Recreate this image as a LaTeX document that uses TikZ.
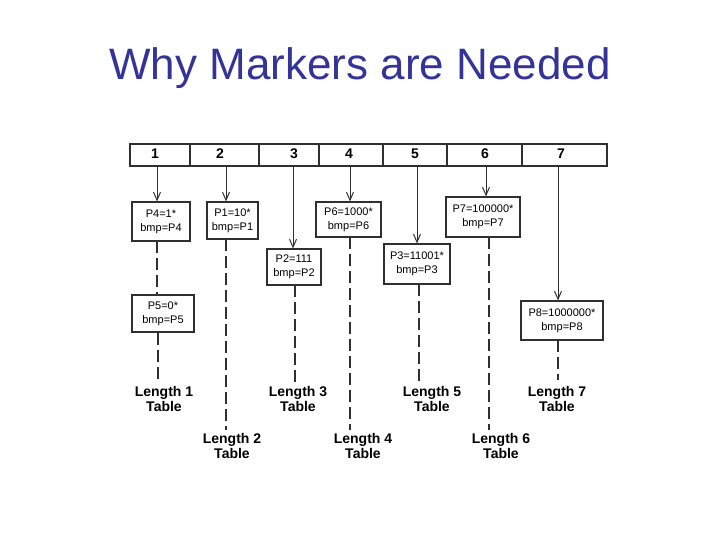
\documentclass[tikz,border=0pt]{standalone}
\usepackage{fontspec}
\setmainfont{Liberation Sans}
\usetikzlibrary{arrows.meta}
\definecolor{ttl}{HTML}{333399}
\definecolor{ln}{HTML}{303030}
\begin{document}
\begin{tikzpicture}[x=1pt,y=-1pt,
  bx/.style={draw=ln,line width=1.2pt,minimum width=#1,minimum height=37pt,inner sep=1pt,align=center,font=\fontsize{11}{14}\selectfont},
  lbl/.style={font=\bfseries\fontsize{14}{15}\selectfont,align=center},
  num/.style={font=\bfseries\fontsize{14}{15}\selectfont},
  arr/.style={draw=ln,line width=1pt,-{Straight Barb[length=8pt,width=7pt]}},
  dl/.style={draw=ln,line width=1.2pt,dash pattern=on 12pt off 5pt}]
\useasboundingbox (0,0) rectangle (720,540);
\node[text=ttl,font=\fontsize{44}{46}\selectfont] (title) at (360,68) {Why Markers are Needed};
\draw[draw=ln,line width=1.2pt] (130,144) rectangle (607,166);
\foreach \x in {190,259,319,383,447,522} \draw[draw=ln,line width=1.2pt] (\x,144)--(\x,166);
\foreach \n/\x in {1/155,2/220,3/294,4/349,5/415,6/485,7/561} \node[num] (n\n) at (\x,154) {\n};
\coordinate (t1) at (157,166); \coordinate (t2) at (226,166); \coordinate (t3) at (293,166);
\coordinate (t4) at (350,166); \coordinate (t5) at (417,166); \coordinate (t6) at (486,166); \coordinate (t7) at (558,166);
\node[bx=58pt,minimum height=39pt] (p4) at (161,221.5) {P4=1*\\bmp=P4};
\node[bx=62pt] (p5) at (163,313.5) {P5=0*\\bmp=P5};
\node[bx=51pt] (p1) at (232.5,220.5) {P1=10*\\bmp=P1};
\node[bx=54pt,minimum height=36pt] (p2) at (294,267) {P2=111\\bmp=P2};
\node[bx=65pt,minimum height=35pt] (p6) at (348.5,219.5) {P6=1000*\\bmp=P6};
\node[bx=66pt,minimum height=40pt] (p3) at (417,264) {P3=11001*\\bmp=P3};
\node[bx=74pt,minimum height=40pt] (p7) at (483,217) {P7=100000*\\bmp=P7};
\node[bx=82pt,minimum height=39pt] (p8) at (562,320.5) {P8=1000000*\\bmp=P8};
\draw[arr] (t1) -- (t1|-p4.north);
\draw[arr] (t2) -- (t2|-p1.north);
\draw[arr] (t3) -- (t3|-p2.north);
\draw[arr] (t4) -- (t4|-p6.north);
\draw[arr] (t5) -- (t5|-p3.north);
\draw[arr] (t6) -- (t6|-p7.north);
\draw[arr] (t7) -- (t7|-p8.north);
\node[lbl] (L1) at (164,399) {Length 1\\Table};
\node[lbl] (L3) at (298,399) {Length 3\\Table};
\node[lbl] (L5) at (432,399) {Length 5\\Table};
\node[lbl] (L7) at (557,399) {Length 7\\Table};
\node[lbl] (L2) at (232,446) {Length 2\\Table};
\node[lbl] (L4) at (363,446) {Length 4\\Table};
\node[lbl] (L6) at (501,446) {Length 6\\Table};
\draw[dl] (157,241) -- (157,295);
\draw[dl] (158,333) -- (158,380);
\draw[dl] (226,239) -- (226,430);
\draw[dl] (295,285) -- (295,386);
\draw[dl] (350,237) -- (350,430);
\draw[dl] (419,284) -- (419,386);
\draw[dl] (489,237) -- (489,430);
\draw[dl] (558,340) -- (558,380);
\end{tikzpicture}
\end{document}
